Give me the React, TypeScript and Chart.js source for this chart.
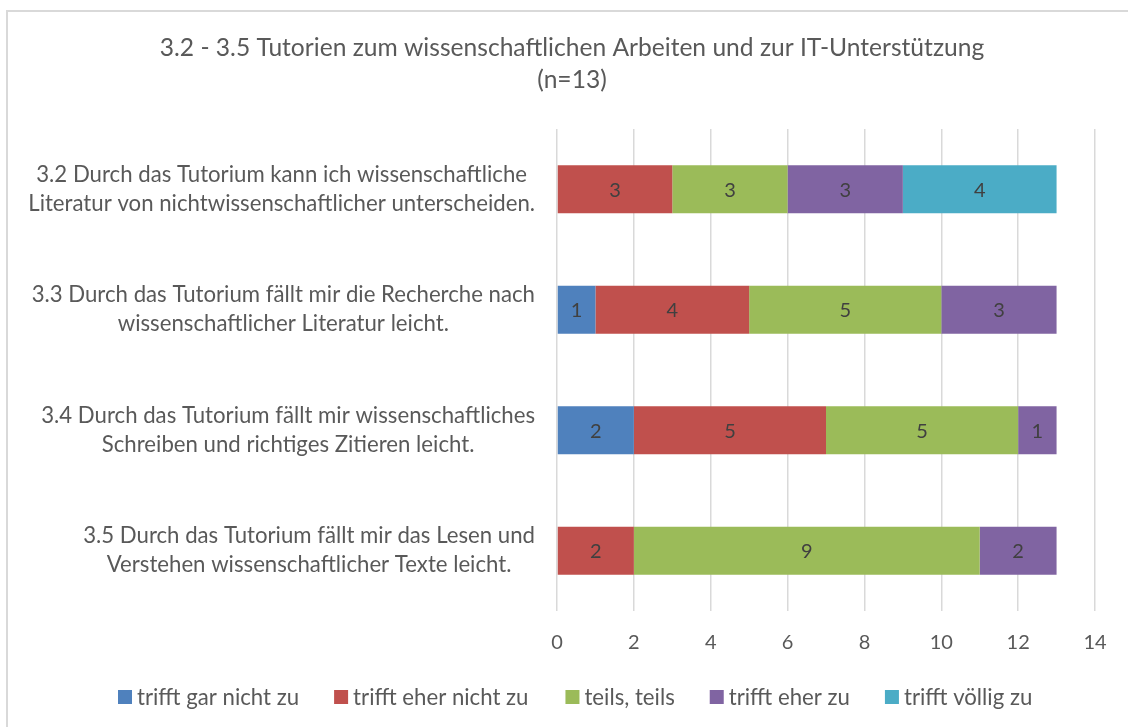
import { useEffect, useRef } from 'react';
import { Chart, registerables } from 'chart.js';

Chart.register(...registerables);

const categories: string[][] = [
  ['3.2 Durch das Tutorium kann ich wissenschaftliche', 'Literatur von nichtwissenschaftlicher unterscheiden.'],
  ['3.3 Durch das Tutorium fällt mir die Recherche nach', 'wissenschaftlicher Literatur leicht.'],
  ['3.4 Durch das Tutorium fällt mir wissenschaftliches', 'Schreiben und richtiges Zitieren leicht.'],
  ['3.5 Durch das Tutorium fällt mir das Lesen und', 'Verstehen wissenschaftlicher Texte leicht.'],
];

const seriesNames = ['trifft gar nicht zu', 'trifft eher nicht zu', 'teils, teils', 'trifft eher zu', 'trifft völlig zu'];
const trifftGarNichtZu = [0, 1, 2, 0];
const trifftEherNichtZu = [3, 4, 5, 2];
const teilsTeils = [3, 5, 5, 9];
const trifftEherZu = [3, 3, 1, 2];
const trifftVoelligZu = [4, 0, 0, 0];
const seriesColors = ['#4F81BD', '#C0504D', '#9BBB59', '#8064A2', '#4BACC6'];

const xMin = 0;
const xMax = 14;
const xStep = 2;

const titleLines = ['3.2 - 3.5 Tutorien zum wissenschaftlichen Arbeiten und zur IT-Unterstützung', '(n=13)'];

const FONT = 'Lato, "Open Sans", sans-serif';
const TEXT = '#595959';

const framePlugin = {
  id: 'frame',
  beforeDraw(chart: any) {
    const ctx = chart.ctx;
    ctx.save();
    ctx.fillStyle = '#ffffff';
    ctx.fillRect(0, 0, chart.width, chart.height);
    ctx.strokeStyle = '#d9d9d9';
    ctx.lineWidth = 2;
    ctx.strokeRect(7, 11, chart.width + 40, chart.height + 40);
    ctx.restore();
  },
};

const dataLabelPlugin = {
  id: 'dataLabels',
  afterDatasetsDraw(chart: any) {
    const ctx = chart.ctx;
    ctx.save();
    ctx.font = `20px ${FONT}`;
    ctx.fillStyle = '#404040';
    ctx.textAlign = 'center';
    ctx.textBaseline = 'middle';
    chart.data.datasets.forEach((ds: any, i: number) => {
      const meta = chart.getDatasetMeta(i);
      meta.data.forEach((el: any, j: number) => {
        const v = ds.data[j];
        if (!v) return;
        const { x, y, base } = el.getProps(['x', 'y', 'base'], true);
        ctx.fillText(String(v), (x + base) / 2, y + 1);
      });
    });
    ctx.restore();
  },
};

const yLabelPlugin = {
  id: 'yLabels',
  afterDraw(chart: any) {
    const ctx = chart.ctx;
    const yScale = chart.scales.y;
    const right = chart.chartArea.left - 22;
    const lh = 29;
    ctx.save();
    ctx.font = `22.2px ${FONT}`;
    ctx.fillStyle = TEXT;
    ctx.textAlign = 'center';
    ctx.textBaseline = 'middle';
    (chart.data.labels as string[][]).forEach((lines, i) => {
      const w = Math.max(...lines.map((l) => ctx.measureText(l).width));
      const cx = right - w / 2;
      const cy = yScale.getPixelForTick(i);
      lines.forEach((l, k) => {
        ctx.fillText(l, cx, cy + (k - (lines.length - 1) / 2) * lh);
      });
    });
    ctx.restore();
  },
};

const legendPlugin = {
  id: 'customLegend',
  afterDraw(chart: any) {
    const ctx = chart.ctx;
    const box = 14;
    const gap = 5;
    const itemGaps = [35, 37, 35, 35, 0];
    const startX = 118;
    const cy = 697;
    ctx.save();
    ctx.font = `22.2px ${FONT}`;
    ctx.textBaseline = 'middle';
    ctx.textAlign = 'left';
    let x = startX;
    chart.data.datasets.forEach((ds: any, i: number) => {
      const w = ctx.measureText(ds.label).width;
      ctx.fillStyle = ds.backgroundColor;
      ctx.fillRect(x, cy - box / 2, box, box);
      ctx.fillStyle = TEXT;
      ctx.fillText(ds.label, x + box + gap, cy + 1);
      x += box + gap + w + itemGaps[i];
    });
    ctx.restore();
  },
};

export default function App() {
  const canvasRef = useRef<HTMLCanvasElement | null>(null);

  useEffect(() => {
    document.body.style.margin = '0';
    const canvas = canvasRef.current;
    if (!canvas) return;
    const series = [trifftGarNichtZu, trifftEherNichtZu, teilsTeils, trifftEherZu, trifftVoelligZu];
    const chart = new Chart(canvas, {
      type: 'bar',
      data: {
        labels: categories,
        datasets: series.map((d, i) => ({
          label: seriesNames[i],
          data: d,
          backgroundColor: seriesColors[i],
          borderWidth: 0,
          barPercentage: 0.4,
          categoryPercentage: 1,
        })),
      },
      options: {
        indexAxis: 'y',
        responsive: false,
        animation: false,
        devicePixelRatio: 1,
        layout: { padding: { left: 49, right: 33, top: 0, bottom: 52 } },
        plugins: {
          legend: { display: false },
          tooltip: { enabled: false },
          title: {
            display: true,
            text: titleLines,
            color: TEXT,
            font: { family: FONT, size: 24.6, weight: 'normal', lineHeight: 32 / 24.6 },
            padding: { top: 32, bottom: 33 },
          },
        },
        scales: {
          x: {
            stacked: true,
            min: xMin,
            max: xMax,
            ticks: {
              stepSize: xStep,
              color: TEXT,
              padding: 20,
              font: { family: FONT, size: 20 },
            },
            grid: { color: '#d9d9d9', lineWidth: 1.5, drawTicks: false },
            border: { display: false },
          },
          y: {
            stacked: true,
            ticks: { display: false },
            grid: { display: false },
            border: { display: false },
            afterFit(scale: any) {
              scale.width = 557 - 49;
            },
          },
        },
      },
      plugins: [framePlugin, dataLabelPlugin, yLabelPlugin, legendPlugin],
    } as any);
    return () => chart.destroy();
  }, []);

  return (
    <div style={{ width: 1128, height: 727 }}>
      <canvas ref={canvasRef} width={1128} height={727} style={{ width: 1128, height: 727, display: 'block' }} />
    </div>
  );
}
